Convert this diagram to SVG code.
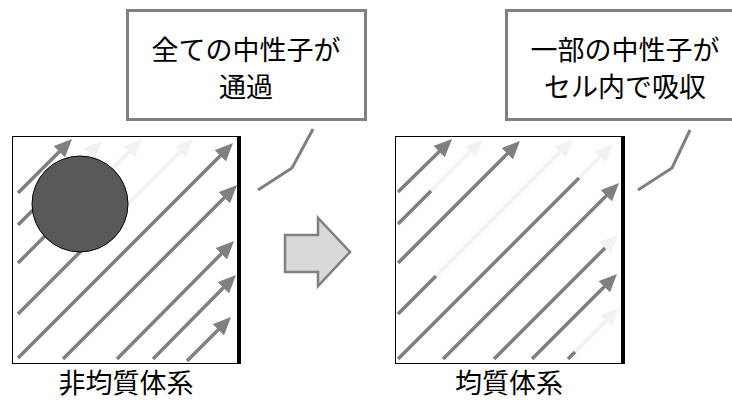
<svg xmlns="http://www.w3.org/2000/svg" width="732" height="401" viewBox="0 0 732 401">
<defs>
<style>
.box{fill:#fff;stroke:#000;stroke-width:1}
.bar{fill:#000}
.d{stroke:#808080;stroke-width:3.5;fill:none}
.l{stroke:#f2f2f2;stroke-width:3.5;fill:none}
.da{marker-end:url(#hd)}
.la{marker-end:url(#hl)}
.call{fill:#fff;stroke:#808080;stroke-width:3}
.lead{fill:none;stroke:#808080;stroke-width:3}
.t{font-family:"Noto Sans CJK JP","Noto Sans CJK SC",sans-serif;font-size:27px;fill:#000;text-anchor:middle}
</style>
<marker id="hd" viewBox="0 0 18 16" refX="13" refY="8" markerWidth="18" markerHeight="16" markerUnits="userSpaceOnUse" orient="auto"><path d="M0,0 L18,8 L0,16 z" fill="#808080"/></marker>
<marker id="hl" viewBox="0 0 18 16" refX="13" refY="8" markerWidth="18" markerHeight="16" markerUnits="userSpaceOnUse" orient="auto"><path d="M0,0 L18,8 L0,16 z" fill="#f2f2f2"/></marker>
</defs>

<g id="callout-left">
<rect class="call" x="127.5" y="10.5" width="238" height="109"/>
<polyline class="lead" points="313,129 292,168 258,190"/>
<text class="t" x="246" y="60">全ての中性子が</text>
<text class="t" x="246" y="97">通過</text>
</g>

<g id="callout-right">
<rect class="call" x="506.5" y="10.5" width="238" height="109"/>
<polyline class="lead" points="690,130 672,168 638,190"/>
<text class="t" x="625" y="60">一部の中性子が</text>
<text class="t" x="625" y="97">セル内で吸収</text>
</g>

<g id="cell-heterogeneous">
<rect class="box" x="12.5" y="136.5" width="226" height="227"/>
<rect class="bar" x="237" y="136" width="4" height="228"/>
</g>

<g id="cell-homogeneous">
<rect class="box" x="395.5" y="136.5" width="227" height="227"/>
<rect class="bar" x="621" y="136" width="4" height="228"/>
</g>

<g id="connectors">
<line class="d da" x1="18" y1="193" x2="68.5" y2="142.5"/>
<line class="l la" x1="60" y1="183" x2="98.5" y2="144.5"/>
<line class="d" x1="18" y1="225" x2="62" y2="181"/>
<line class="l la" x1="80" y1="201" x2="138.5" y2="142.5"/>
<line class="d" x1="18" y1="263" x2="80" y2="201"/>
<line class="l la" x1="100" y1="232" x2="189.5" y2="142.5"/>
<line class="d" x1="18" y1="314" x2="102" y2="230"/>
<line class="d da" x1="18" y1="358" x2="229.5" y2="146.5"/>
<line class="d da" x1="63" y1="359" x2="233.5" y2="188.5"/>
<line class="d da" x1="117" y1="359" x2="230.5" y2="244.5"/>
<line class="d da" x1="153" y1="359" x2="232.5" y2="278.5"/>
<line class="d da" x1="187" y1="361" x2="227.5" y2="320.5"/>
<line class="d da" x1="398" y1="192" x2="448.5" y2="142.5"/>
<line class="l la" x1="430" y1="192" x2="479.5" y2="142.5"/>
<line class="d" x1="398" y1="224" x2="431" y2="191"/>
<line class="d da" x1="398" y1="263" x2="516.5" y2="144.5"/>
<line class="l la" x1="435" y1="277" x2="569.5" y2="142.5"/>
<line class="d" x1="398" y1="314" x2="436" y2="276"/>
<line class="l la" x1="578" y1="179" x2="609.5" y2="147.5"/>
<line class="d" x1="398" y1="359" x2="579" y2="178"/>
<line class="d da" x1="443" y1="359" x2="615.5" y2="186.5"/>
<line class="l la" x1="604" y1="249" x2="614.5" y2="238.5"/>
<line class="d" x1="494" y1="359" x2="605" y2="248"/>
<line class="d da" x1="532" y1="359" x2="613.5" y2="277.5"/>
<line class="l la" x1="574" y1="353" x2="615.5" y2="311.5"/>
<line class="d" x1="568" y1="359" x2="575" y2="352"/>
</g>

<g id="absorber">
<circle cx="80" cy="204" r="48" fill="#595959" stroke="#000" stroke-width="1"/>
</g>

<g id="transition-arrow">
<polygon points="285,235 318,235 318,218 350,252 318,286 318,272 285,272" fill="#d9d9d9" stroke="#808080" stroke-width="2.5"/>
</g>

<g id="label-left"><text class="t" x="126" y="393">非均質体系</text></g>
<g id="label-right"><text class="t" x="509" y="393">均質体系</text></g>
</svg>
